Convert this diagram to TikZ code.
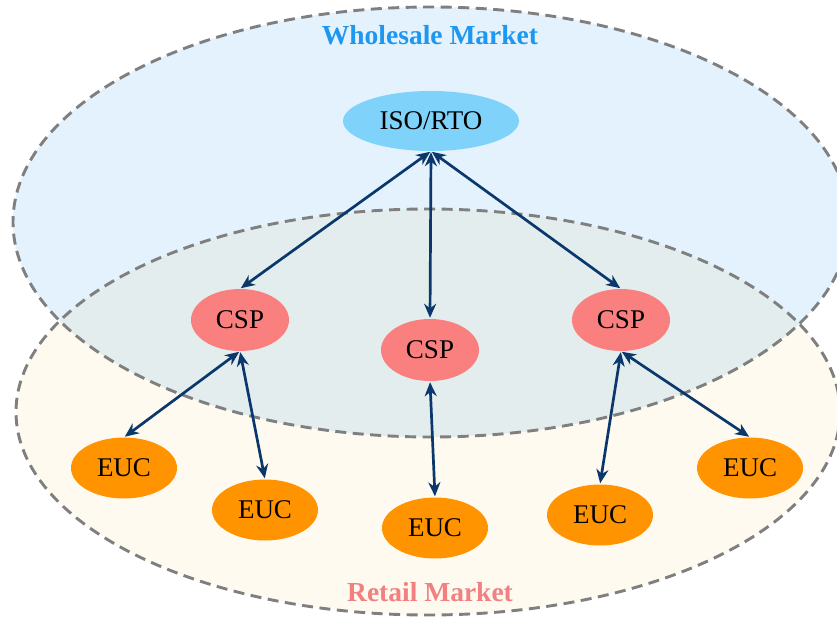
\documentclass[tikz,border=0pt]{standalone}
\usepackage{fontspec}
\setmainfont{Liberation Serif}
\usetikzlibrary{arrows.meta,shapes.geometric}
\definecolor{wholefill}{HTML}{E3F2FD}
\definecolor{retailfill}{HTML}{FEFAF0}
\definecolor{overfill}{HTML}{E4EDED}
\definecolor{isofill}{HTML}{7FD3FA}
\definecolor{cspfill}{HTML}{FA7F7F}
\definecolor{eucfill}{HTML}{FF9400}
\definecolor{wholetext}{HTML}{1E97F0}
\definecolor{retailtext}{HTML}{F28080}
\definecolor{arrowcol}{HTML}{0B386C}
\definecolor{dashcol}{HTML}{7F7F7F}
\tikzset{
  agent/.style={ellipse, inner sep=0pt, font=\fontsize{27}{30}\selectfont, text=black},
  isobox/.style={agent, fill=isofill, minimum width=176pt, minimum height=60pt},
  cspbox/.style={agent, fill=cspfill, minimum width=98pt, minimum height=62pt},
  eucbox/.style={agent, fill=eucfill, minimum width=106pt, minimum height=61pt},
  link/.style={draw=arrowcol, line width=2.7pt, {Stealth[length=14pt,width=12pt,inset=4.5pt]}-{Stealth[length=14pt,width=12pt,inset=4.5pt]}, shorten <=1pt, shorten >=1pt},
  market/.style={draw=dashcol, line width=2.9pt, dash pattern=on 11pt off 6.5pt},
  title/.style={font=\fontsize{27.5}{30}\selectfont\bfseries}
}
\begin{document}
\begin{tikzpicture}[x=1pt,y=-1pt]
\useasboundingbox (0,0) rectangle (837,617);
\begin{scope}
\clip (0,0) rectangle (837,617);
\fill[retailfill] (428,412) ellipse [x radius=412, y radius=203];
\fill[wholefill] (431,222) ellipse [x radius=418, y radius=215];
\begin{scope}
\clip (428,412) ellipse [x radius=412, y radius=203];
\fill[overfill] (431,222) ellipse [x radius=418, y radius=215];
\end{scope}
\draw[market] (428,412) ellipse [x radius=412, y radius=203];
\draw[market] (431,222) ellipse [x radius=418, y radius=215];
\end{scope}
\node[title, text=wholetext] (wm) at (430,35) {Wholesale Market};
\node[title, text=retailtext] (rm) at (430,592) {Retail Market};
\node[isobox] (iso) at (431,121) {ISO/RTO};
\node[cspbox] (c1) at (240,320) {CSP};
\node[cspbox] (c2) at (430,350) {CSP};
\node[cspbox] (c3) at (621,320) {CSP};
\node[eucbox] (e1) at (124,468) {EUC};
\node[eucbox] (e2) at (265,510) {EUC};
\node[eucbox] (e3) at (435,528) {EUC};
\node[eucbox] (e4) at (600,515) {EUC};
\node[eucbox] (e5) at (750,468) {EUC};
\draw[link] (iso.south) -- (c1.north);
\draw[link] (iso.south) -- (c2.north);
\draw[link] (iso.south) -- (c3.north);
\draw[link] (c1.south) -- (e1.north);
\draw[link] (c1.south) -- (e2.north);
\draw[link] (c2.south) -- (e3.north);
\draw[link] (c3.south) -- (e4.north);
\draw[link] (c3.south) -- (e5.north);
\end{tikzpicture}
\end{document}
